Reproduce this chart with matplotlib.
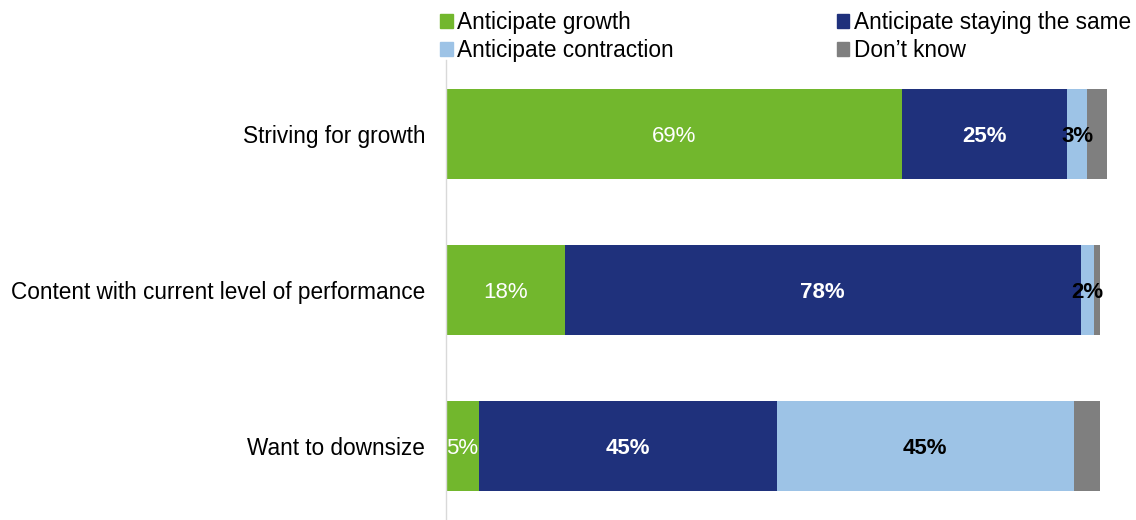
import matplotlib.pyplot as plt
from matplotlib.patches import Patch
import numpy as np

plt.rcParams["font.family"] = ["Liberation Sans", "DejaVu Sans"]

categories = [
    "Striving for growth",
    "Content with current level of performance",
    "Want to downsize",
]
series_names = [
    "Anticipate growth",
    "Anticipate staying the same",
    "Anticipate contraction",
    "Don\u2019t know",
]
growth = [69, 18, 5]
same = [25, 78, 45]
contraction = [3, 2, 45]
dont_know = [3, 1, 4]

# "Don't know" segments are left unlabelled
labelled = [True, True, True, False]

colors = ["#72B72D", "#1F317C", "#9DC3E6", "#7F7F7F"]
text_colors = ["white", "white", "black", "black"]
text_weights = ["normal", "bold", "bold", "bold"]

fig = plt.figure(figsize=(11.36, 5.2), dpi=100)
ax = fig.add_axes([446 / 1136, 0.0, 661 / 1136, 460 / 520])

data = np.array([growth, same, contraction, dont_know], dtype=float)
y = np.arange(len(categories))
left = np.zeros(len(categories))
for i, (name, vals) in enumerate(zip(series_names, data)):
    ax.barh(y, vals, left=left, height=0.575, color=colors[i], label=name)
    if labelled[i]:
        for j, v in enumerate(vals):
            ax.text(left[j] + v / 2, y[j], f"{int(v)}%", ha="center",
                    va="center_baseline", color=text_colors[i], fontsize=16,
                    fontweight=text_weights[i])
    left += vals

ax.set_xlim(0, 100)
ax.set_ylim(2.47, -0.47)
ax.set_yticks(y)
ax.set_yticklabels(categories, fontsize=16.3)
ax.tick_params(axis="y", length=0, pad=15)
ax.set_xticks([])
for side in ["top", "right", "bottom"]:
    ax.spines[side].set_visible(False)
ax.spines["left"].set_color("#D9D9D9")
ax.spines["left"].set_linewidth(1)

handles = [Patch(color=colors[k]) for k in (0, 2, 1, 3)]
names = [series_names[k] for k in (0, 2, 1, 3)]
fig.legend(handles, names, loc="upper left", bbox_to_anchor=(429 / 1136, 1.0),
           ncol=2, frameon=False, fontsize=16.3, handlelength=0.55, handleheight=0.55,
           handletextpad=0.2, columnspacing=7.2, labelspacing=0.22,
           borderaxespad=0.1)

fig.savefig("out.png", dpi=100)
